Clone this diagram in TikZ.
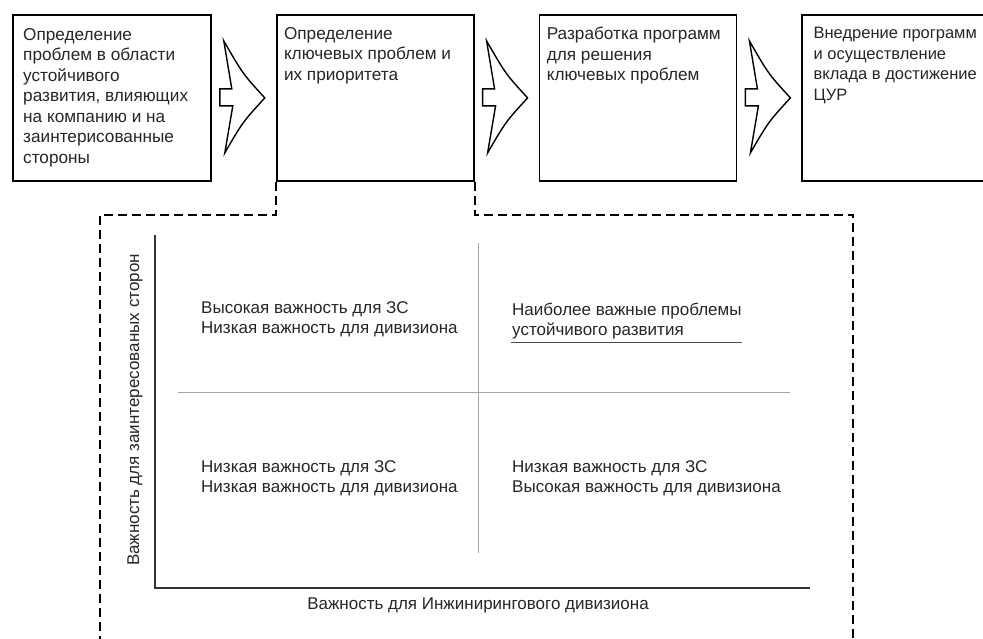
\documentclass[tikz,border=0pt]{standalone}
\usepackage{fontspec}
\setmainfont{Liberation Sans}
\usetikzlibrary{calc,positioning}

\begin{document}
\begin{tikzpicture}[x=1pt,y=-1pt,
  box/.style={draw,line width=1.8pt,minimum height=166pt,inner sep=0pt,anchor=north west},
  boxtext/.style={anchor=north west,align=left,inner sep=0pt,text=black!85,font=\fontsize{17.2}{20.5}\selectfont},
  qtext/.style={anchor=north west,align=left,inner sep=0pt,text=black!85,font=\fontsize{17}{20}\selectfont},
  chev/.style={draw,line width=1.4pt,line join=miter,fill=white},
  frame/.style={line width=2pt,dash pattern=on 9pt off 5pt},
  axis/.style={line width=1.6pt,black!80},
  divider/.style={line width=0.8pt,black!35},
  node distance=64pt
]
\useasboundingbox (0,0) rectangle (983,639);
% process steps
\node[box,minimum width=198pt] (b1) at (12,14) {};
\node[box,minimum width=197pt,right=of b1] (b2) {};
\node[box,minimum width=197pt,right=of b2] (b3) {};
\node[box,minimum width=185pt,right=of b3] (b4) {};
\node[boxtext] (t1) at ($(b1.north west)+(11,14)$) {Определение\\проблем в области\\устойчивого\\развития, влияющих\\на компанию и на\\заинтерисованные\\стороны};
\node[boxtext] (t2) at ($(b2.north west)+(8,13)$) {Определение\\ключевых проблем и\\их приоритета};
\node[boxtext] (t3) at ($(b3.north west)+(8,13)$) {Разработка программ\\для решения\\ключевых проблем};
\node[boxtext,font=\fontsize{16.5}{20.5}\selectfont] (t4) at ($(b4.north west)+(12,13)$) {Внедрение программ\\и осуществление\\вклада в достижение\\ЦУР};
% arrows between steps
\foreach \p in {b1,b2,b3}{
  \begin{scope}[shift={(\p.east)}]
    \draw[chev] (12,-57) .. controls (31,-24) .. (53,0) .. controls (31,24) .. (13,55)
      -- (21,8) -- (8,8) -- (8,-9) -- (20,-9) -- cycle;
  \end{scope}
}
% zoom frame of step 2
\draw[frame] (b2.south west) -- ++(0,33) -| (100,639);
\draw[frame] (b2.south east) -- ++(0,33) -| (853,639);
% matrix
\coordinate (ytop) at (155,235);
\coordinate (o) at (155,588);
\coordinate (xend) at (810,588);
\draw[axis] (ytop) -- (o) -- (xend);
\draw[divider] (478,243) -- (478,553);
\draw[divider] (178,392) -- (790,392);
\node[qtext] (q1) at (201,301) {Высокая важность для ЗС\\Низкая важность для дивизиона};
\node[qtext] (q2) at (512,303) {Наиболее важные проблемы\\устойчивого развития};
\draw[line width=0.8pt,black!70] (511,342) coordinate (ul) -- (742,342);
\node[qtext] (q3) at (201,460) {Низкая важность для ЗС\\Низкая важность для дивизиона};
\node[qtext] (q4) at (512,460) {Низкая важность для ЗС\\Высокая важность для дивизиона};
\node[qtext,anchor=base,rotate=90] (ylab) at (139,410) {Важность для заинтересованых сторон};
\node[qtext,anchor=base] (xlab) at (478,609) {Важность для Инжинирингового дивизиона};
\end{tikzpicture}
\end{document}
